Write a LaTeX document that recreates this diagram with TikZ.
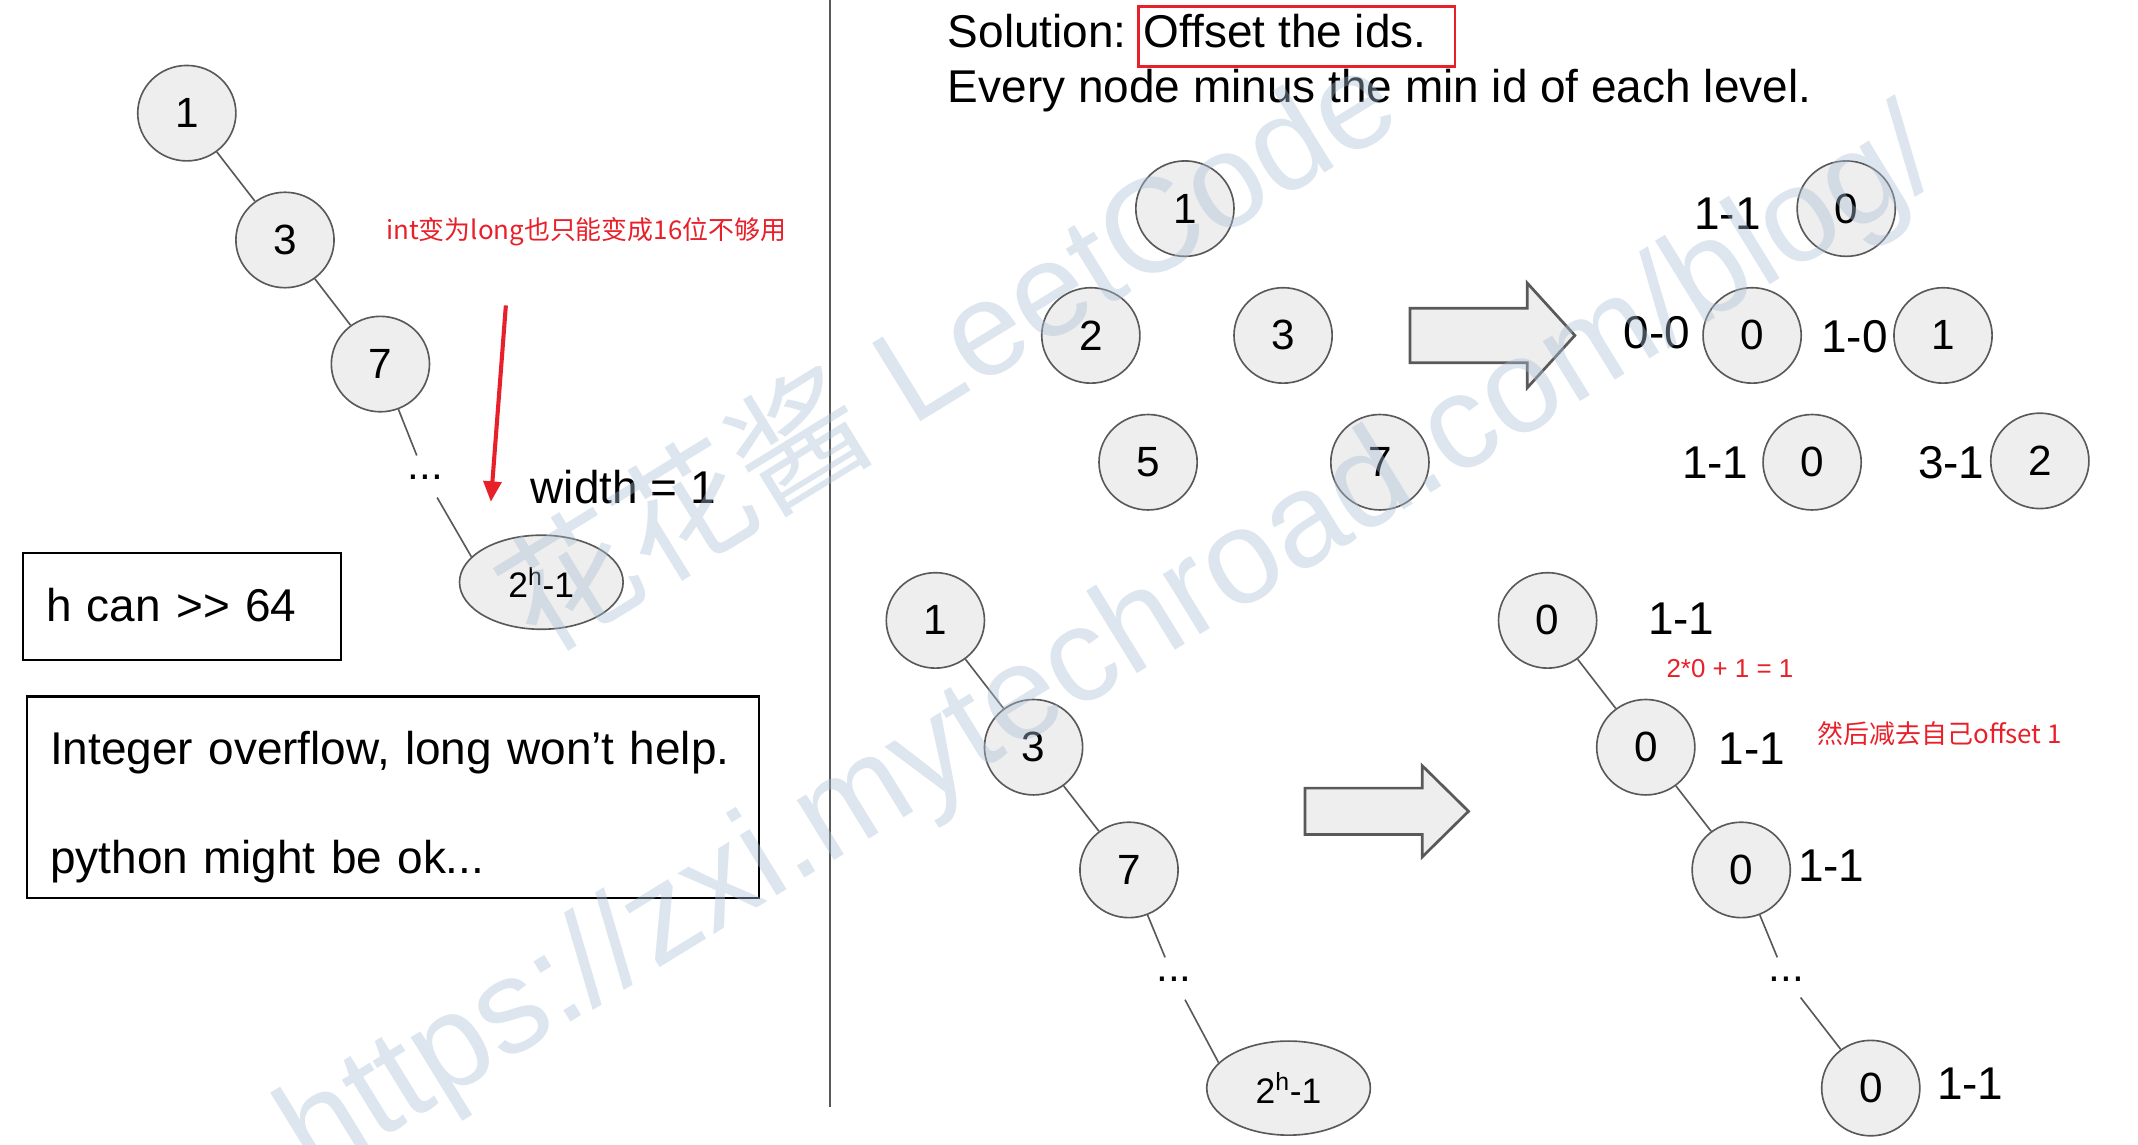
\documentclass[tikz,border=0pt]{standalone}
\usepackage{fontspec}
\setmainfont{Liberation Sans}
\newfontfamily\cjk{Noto Sans CJK SC}
\usetikzlibrary{shapes.geometric,arrows.meta}

\definecolor{nodegray}{HTML}{EEEEEE}
\definecolor{rimgray}{HTML}{595959}
\definecolor{marker}{HTML}{E8202A}
\definecolor{wmark}{HTML}{A9C0D6}

\newcommand{\txtsize}{\fontsize{33.7}{40}\selectfont}
\newcommand{\numsize}{\fontsize{31}{36}\selectfont}
\newcommand{\leafsize}{\fontsize{26}{30}\selectfont}
\newcommand{\notesize}{\fontsize{19}{23}\selectfont}
\newcommand{\blockarrow}[6]{\draw[blockfill] (#1,#4-#5) -- (#3,#4-#5) -- (#3,#4-#6) -- (#2,#4)
	-- (#3,#4+#6) -- (#3,#4+#5) -- (#1,#4+#5) -- cycle}

\begin{document}
\begin{tikzpicture}[x=1pt,y=-1pt,
	idnode/.style={ellipse,draw=rimgray,fill=nodegray,line width=1.2pt,
		minimum width=72pt,minimum height=70pt,inner sep=0pt,font=\numsize},
	bignode/.style={idnode,minimum width=120pt,minimum height=69pt,font=\leafsize},
	dotsnode/.style={circle,inner sep=0pt,minimum size=34pt,font=\numsize},
	lbl/.style={inner sep=0pt,font=\txtsize},
	note/.style={inner sep=0pt,text=marker,font=\notesize},
	branch/.style={draw=rimgray,line width=1.2pt},
	blockfill/.style={fill=nodegray,draw=rimgray,line width=2pt},
	textbox/.style={draw,line width=1.6pt,anchor=north west,inner xsep=17pt,
		inner ysep=0pt,align=left,font=\txtsize},
	wmarkstyle/.style={text=wmark,opacity=0.4,inner sep=0pt,rotate=31.6,
		font=\fontsize{98}{110}\selectfont}]
\useasboundingbox (0,0) rectangle (1568,839);
%Divider
	\coordinate (divtop) at (609,0);
	\coordinate (divbot) at (609,812);
	\draw[rimgray,line width=1.5pt] (divtop) -- (divbot);
%The left tree
	\node[idnode] (a1) at (137,83) {1};
	\node[idnode] (a3) at (209,176) {3};
	\node[idnode] (a7) at (279,267) {7};
	\node[dotsnode] (adots) at (312,350) {...};
	\node[bignode] (aleaf) at (397,427) {2\textsuperscript{h}-1};
	\draw[branch] (a1) -- (a3);
	\draw[branch] (a3) -- (a7);
	\draw[branch] (a7) -- (adots);
	\draw[branch] (adots) -- (aleaf.160);
%Red remark
	\node[note,anchor=west,font=\cjk\notesize] (warn) at (283,170) {int变为long也只能变成16位不够用};
	\coordinate (warntop) at (371,224);
	\coordinate (warntip) at (360,368);
	\draw[marker,line width=3pt,-{Triangle[length=15pt,width=13pt]}] (warntop) -- (warntip);
	\node[lbl,anchor=west] (width) at (389,357) {width = 1};
%Boxes
	\node[textbox,minimum width=233pt,text width=199pt,text height=50pt,text depth=28pt]
		(hbox) at (16,405) {h can >\kern0pt> 64};
	\node[textbox,minimum width=537pt,text width=503pt,text height=50pt,text depth=98pt,
		font=\fontsize{33.7}{80}\selectfont]
		(ibox) at (19,510) {Integer overflow, long won’t help.\\python might be ok...};
%Solution
	\node[lbl,anchor=base west] (sol) at (695,35) {Solution: Offset the ids.};
	\node[lbl,anchor=base west] (rule) at (695,75) {Every node minus the min id of each level.};
	\draw[marker,line width=2pt] (835,5) rectangle (1067,49);
%Ids before
	\node[idnode] (s1) at (869,153) {1};
	\node[idnode] (s2) at (800,246) {2};
	\node[idnode] (s3) at (941,246) {3};
	\node[idnode] (s5) at (842,339) {5};
	\node[idnode] (s7) at (1012,339) {7};
	\blockarrow{1034}{1155}{1120}{246}{20}{38.5};
%Ids after
	\node[idnode] (r1a) at (1354,153) {0};
	\node[idnode] (r2a) at (1285,246) {0};
	\node[idnode] (r2b) at (1425,246) {1};
	\node[idnode] (r3a) at (1329,339) {0};
	\node[idnode] (r3b) at (1496,338) {2};
	\node[lbl] (l1a) at (1267,157) {1-1};
	\node[lbl] (l2a) at (1215,244) {0-0};
	\node[lbl] (l2b) at (1360,247) {1-0};
	\node[lbl] (l3a) at (1258,339) {1-1};
	\node[lbl] (l3b) at (1431,339) {3-1};
%The bottom tree
	\node[idnode] (b1) at (686,455) {1};
	\node[idnode] (b3) at (758,548) {3};
	\node[idnode] (b7) at (828,638) {7};
	\node[dotsnode] (bdots) at (861,718) {...};
	\node[bignode] (bleaf) at (945,798) {2\textsuperscript{h}-1};
	\draw[branch] (b1) -- (b3);
	\draw[branch] (b3) -- (b7);
	\draw[branch] (b7) -- (bdots);
	\draw[branch] (bdots) -- (bleaf.160);
	\blockarrow{957}{1077}{1043}{595}{17}{33.5};
%The offset tree
	\node[idnode] (c1) at (1135,455) {0};
	\node[idnode] (c2) at (1207,548) {0};
	\node[idnode] (c3) at (1277,638) {0};
	\node[dotsnode] (cdots) at (1310,718) {...};
	\node[idnode] (c4) at (1372,798) {0};
	\draw[branch] (c1) -- (c2);
	\draw[branch] (c2) -- (c3);
	\draw[branch] (c3) -- (cdots);
	\draw[branch] (cdots) -- (c4);
	\node[lbl] (m1) at (1233,454) {1-1};
	\node[lbl] (m2) at (1285,549) {1-1};
	\node[lbl] (m3) at (1343,635) {1-1};
	\node[lbl] (m4) at (1445,795) {1-1};
	\node[note,anchor=west] (calc) at (1222,490) {2*0 + 1 = 1};
	\node[note,anchor=west,font=\cjk\notesize] (minus) at (1333,538) {然后减去自己offset 1};
%Watermark
	\node[wmarkstyle,anchor=base west] (wm1) at (395,482) {{\cjk 花花酱} LeetCode};
	\node[wmarkstyle,anchor=base west] (wm2) at (230,866) {https://zxi.mytechroad.com/blog/};
\end{tikzpicture}
\end{document}
